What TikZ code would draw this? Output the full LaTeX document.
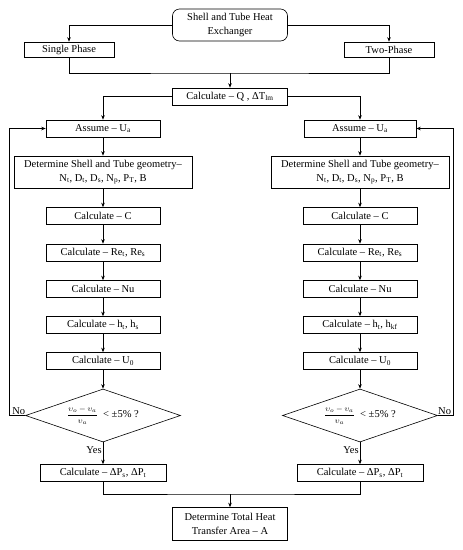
\documentclass[tikz,border=0pt]{standalone}
\usepackage{fontspec}
\setmainfont{Liberation Serif}
\usetikzlibrary{arrows.meta, positioning, shapes.geometric}

\newcommand{\sbs}[1]{\textsubscript{#1}}
\newcommand{\convtest}{{\fontsize{8.5}{10}\selectfont
  $\displaystyle\frac{\upsilon_o-\upsilon_a}{\upsilon_a}$}\ \ < ±5\% ?}

\begin{document}
\begin{tikzpicture}[x=1pt, y=-1pt, >={Stealth[length=4.5pt, width=3.5pt]}, line width=0.6pt,
  box/.style={draw, align=center, inner sep=1pt, minimum width=114pt, minimum height=17pt,
    font=\fontsize{10.5}{14}\selectfont},
  widebox/.style={box, minimum width=178pt, minimum height=32pt},
  dpbox/.style={box, minimum width=126pt},
  decision/.style={draw, diamond, aspect=3, inner sep=0pt, minimum width=155pt,
    minimum height=53pt, font=\fontsize{10.5}{12}\selectfont},
  lbl/.style={font=\fontsize{10.5}{12}\selectfont, inner sep=1pt}]

\useasboundingbox (0,0) rectangle (463,550);

% Top of chart
\node[box, rounded corners=7pt, minimum width=115pt, minimum height=32pt] (hx) at (230,25)
  {Shell and Tube Heat\\Exchanger};
\node[box, minimum width=90pt, minimum height=15pt] (single) at (69,49.5) {Single Phase};
\node[box, minimum width=90pt, minimum height=15pt] (two) at (389,49.5) {Two-Phase};
\node[box, minimum width=115pt] (calcq) at (230,96.5) {Calculate – Q , ΔT\sbs{lm}};

\coordinate (split) at (230,73);
\draw[->] (hx.west) -| (single.north);
\draw[->] (hx.east) -| (two.north);
\draw (single.south) |- (split) -| (two.south);
\draw[->] (split) -- (calcq.north);

% ================================================================
% LEFT COLUMN (single phase)
% ================================================================
\node[box] (assumeL) at (103,128.5) {Assume – U\sbs{a}};
\node[widebox] (geomL) at (103,172)
  {Determine Shell and Tube geometry–\\N\sbs{t}, D\sbs{t}, D\sbs{s}, N\sbs{p}, P\sbs{T}, B};
\node[box] (cL) at (103,216) {Calculate – C};
\node[box] (reL) at (103,252.5) {Calculate – Re\sbs{t}, Re\sbs{s}};
\node[box] (nuL) at (103,289) {Calculate – Nu};
\node[box] (hL) at (103,325) {Calculate – h\sbs{t}, h\sbs{s}};
\node[box] (uL) at (103,361) {Calculate – U\sbs{0}};
\node[decision] (checkL) at (103,415.5) {\convtest};
\node[dpbox] (dpL) at (103,473) {Calculate – ΔP\sbs{s}, ΔP\sbs{t}};

\draw[->] (calcq.west) -| (assumeL.north);
\draw[->] (assumeL) -- (geomL);
\draw[->] (geomL) -- (cL);
\draw[->] (cL) -- (reL);
\draw[->] (reL) -- (nuL);
\draw[->] (nuL) -- (hL);
\draw[->] (hL) -- (uL);
\draw[->] (uL) -- (checkL.north);
\draw[->] (checkL.south) -- node[lbl, left, pos=0.35] {Yes} (dpL.north);

% loop back when not converged
\coordinate (loopL) at (9,415.5);
\draw[->] (checkL.west) -- node[lbl, above, pos=0.4] {No} (loopL) |- (assumeL.west);

% ================================================================
% RIGHT COLUMN (two-phase)
% ================================================================
\node[box, minimum width=112pt] (assumeR) at (360,128.5) {Assume – U\sbs{a}};
\node[widebox] (geomR) at (360,172)
  {Determine Shell and Tube geometry–\\N\sbs{t}, D\sbs{t}, D\sbs{s}, N\sbs{p}, P\sbs{T}, B};
\node[box] (cR) at (360,216) {Calculate – C};
\node[box] (reR) at (360,252.5) {Calculate – Re\sbs{t}, Re\sbs{s}};
\node[box] (nuR) at (360,289) {Calculate – Nu};
\node[box] (hR) at (360,325) {Calculate – h\sbs{t}, h\sbs{kf}};
\node[box] (uR) at (360,361) {Calculate – U\sbs{0}};
\node[decision] (checkR) at (360,415.5) {\convtest};
\node[dpbox] (dpR) at (360,473) {Calculate – ΔP\sbs{s}, ΔP\sbs{t}};

\draw[->] (calcq.east) -| (assumeR.north);
\draw[->] (assumeR) -- (geomR);
\draw[->] (geomR) -- (cR);
\draw[->] (cR) -- (reR);
\draw[->] (reR) -- (nuR);
\draw[->] (nuR) -- (hR);
\draw[->] (hR) -- (uR);
\draw[->] (uR) -- (checkR.north);
\draw[->] (checkR.south) -- node[lbl, left, pos=0.35] {Yes} (dpR.north);

\coordinate (loopR) at (453,415.5);
\draw[->] (checkR.east) -- node[lbl, above, pos=0.45] {No} (loopR) |- (assumeR.east);

% ================================================================
% Final result
% ================================================================
\node[box, minimum width=115pt, minimum height=33pt] (area) at (230,524)
  {Determine Total Heat\\Transfer Area – A};
\coordinate (merge) at (230,494);
\draw (dpL.south) |- (merge) -| (dpR.south);
\draw[->] (merge) -- (area.north);

\end{tikzpicture}
\end{document}
